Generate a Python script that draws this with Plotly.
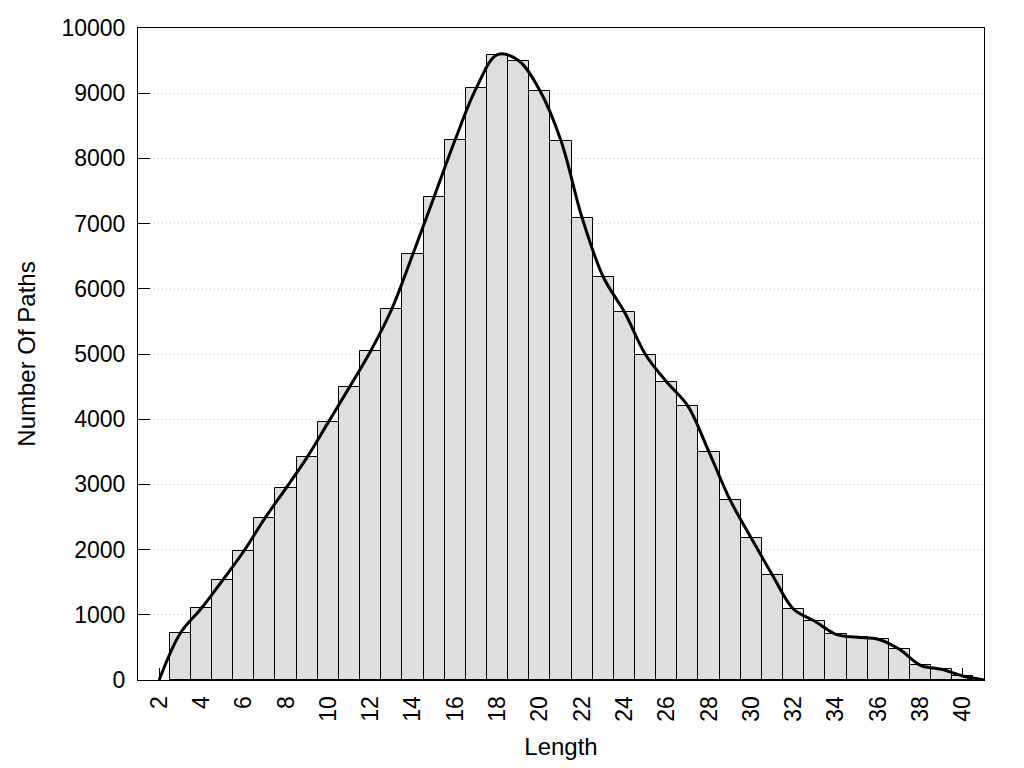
import plotly.graph_objects as go

lengths = list(range(3, 41))
paths = [717, 1100, 1530, 1975, 2482, 2942, 3418, 3955, 4492, 5045, 5690, 6534,
         7409, 8289, 9082, 9593, 9497, 9041, 8269, 7087, 6181, 5644, 4988, 4570,
         4201, 3495, 2758, 2175, 1607, 1085, 901, 701, 655, 625, 471, 226, 164, 61]

curve_x = [2] + lengths + [41]
curve_y = [0] + paths + [0]

x_ticks = list(range(2, 41, 2))
y_ticks = list(range(0, 10001, 1000))

FONT = "Liberation Sans, Arial, sans-serif"

fig = go.Figure()
fig.add_trace(go.Bar(
    x=lengths, y=paths, width=1,
    marker=dict(color="#dedede", line=dict(color="black", width=1)),
    showlegend=False,
))
fig.add_trace(go.Scatter(
    x=curve_x, y=curve_y, mode="lines",
    line=dict(color="black", width=3, shape="spline", smoothing=1.0),
    showlegend=False,
))

fig.update_layout(
    width=1008, height=752,
    margin=dict(l=130, r=32, t=20, b=80, autoexpand=False),
    paper_bgcolor="white", plot_bgcolor="white",
    font=dict(family=FONT, size=23, color="black"),
    bargap=0,
)
fig.update_xaxes(
    range=[1, 41], tickvals=x_ticks, ticktext=[str(v) for v in x_ticks],
    tickangle=-90, ticks="inside", ticklen=12, tickcolor="black",
    showline=True, linecolor="black", linewidth=1, mirror=True,
    showgrid=False, zeroline=False, layer="below traces",
    ticklabelstandoff=6, automargin=False,
    title=dict(text="Length", font=dict(size=24), standoff=20),
)
fig.update_yaxes(
    range=[0, 10000], tickvals=y_ticks, ticktext=[str(v) for v in y_ticks],
    ticks="inside", ticklen=12, tickcolor="black",
    showline=True, linecolor="black", linewidth=1, mirror=True,
    showgrid=True, gridcolor="#c4c4c4", griddash="1px,3px", gridwidth=1,
    zeroline=False, layer="below traces",
    ticklabelstandoff=7, automargin=False,
    title=dict(text="Number Of Paths", font=dict(size=24), standoff=19),
)

fig.write_html("out.html")
